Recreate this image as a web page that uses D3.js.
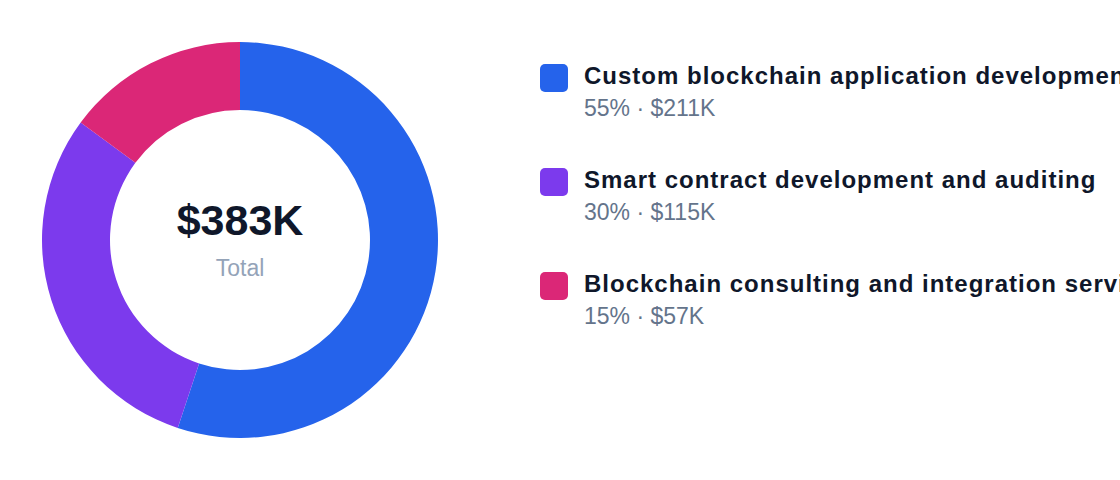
<!DOCTYPE html>
<html>
<head>
<meta charset="utf-8">
<script src="https://cdn.jsdelivr.net/npm/d3@7"></script>
<style>
  html, body { margin: 0; padding: 0; background: #fff; }
  svg { display: block; font-family: "Liberation Sans", Arial, Helvetica, sans-serif; }
</style>
</head>
<body>
<svg width="1120" height="480"></svg>
<script>
var categories = [
  "Custom blockchain application development",
  "Smart contract development and auditing",
  "Blockchain consulting and integration services"
];
var values = [211, 115, 57];           // $K
var colors = ["#2563eb", "#7c3aed", "#db2777"];
var totalLabel = "Total";

var svg = d3.select("svg"),
    cx = 240, cy = 240,
    outerR = 198, innerR = 130;

var total = d3.sum(values);
var fmt = function(v) { return "$" + v + "K"; };

var data = categories.map(function(c, i) {
  return { name: c, value: values[i], color: colors[i] };
});

var pie = d3.pie()
  .sort(null)
  .value(function(d) { return d.value; });

var arc = d3.arc()
  .innerRadius(innerR)
  .outerRadius(outerR);

var g = svg.append("g")
  .attr("transform", "translate(" + cx + "," + cy + ")");

g.selectAll("path")
  .data(pie(data))
  .enter().append("path")
  .attr("d", arc)
  .attr("fill", function(d) { return d.data.color; });

g.append("text")
  .attr("text-anchor", "middle")
  .attr("y", -5)
  .attr("fill", "#0f172a")
  .attr("font-size", 43)
  .attr("font-weight", "bold")
  .text(fmt(total));

g.append("text")
  .attr("text-anchor", "middle")
  .attr("y", 36)
  .attr("fill", "#94a3b8")
  .attr("font-size", 23)
  .text(totalLabel);

// legend
var legend = svg.append("g")
  .attr("transform", "translate(540,64)");

var rows = legend.selectAll("g")
  .data(data)
  .enter().append("g")
  .attr("transform", function(d, i) { return "translate(0," + (i * 104) + ")"; });

rows.append("rect")
  .attr("width", 28)
  .attr("height", 28)
  .attr("rx", 5)
  .attr("fill", function(d) { return d.color; });

rows.append("text")
  .attr("x", 44)
  .attr("y", 20)
  .attr("fill", "#0f172a")
  .attr("font-size", 24)
  .attr("font-weight", "bold")
  .attr("letter-spacing", 1)
  .text(function(d) { return d.name; });

rows.append("text")
  .attr("x", 44)
  .attr("y", 52)
  .attr("fill", "#64748b")
  .attr("font-size", 23)
  .text(function(d) {
    return Math.round(d.value / total * 100) + "% \u00b7 " + fmt(d.value);
  });
</script>
</body>
</html>
